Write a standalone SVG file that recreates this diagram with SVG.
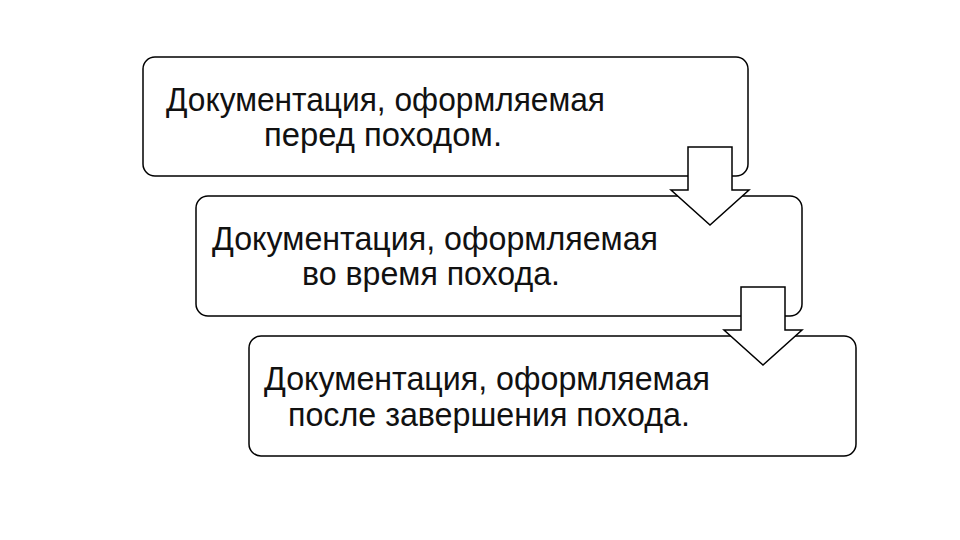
<svg xmlns="http://www.w3.org/2000/svg" width="960" height="540" viewBox="0 0 960 540">
<style>
.box{fill:#fff;stroke:#000;stroke-width:1.5}
.arr{fill:#fff;stroke:#000;stroke-width:1.5;stroke-linejoin:miter}
.t{font-family:"Liberation Sans","Noto Sans",sans-serif;font-size:33px;fill:#111}
</style>
<rect width="960" height="540" fill="#fff"/>
<g id="node1">
<rect class="box" x="143" y="57" width="605" height="119" rx="12"/>
<text class="t" x="166" y="110.5" textLength="439" lengthAdjust="spacingAndGlyphs">Документация, оформляемая</text>
<text class="t" x="264" y="146" textLength="238" lengthAdjust="spacingAndGlyphs">перед походом.</text>
</g>
<g id="node2">
<rect class="box" x="196" y="196" width="606" height="120" rx="12"/>
<text class="t" x="212" y="249.5" textLength="446" lengthAdjust="spacingAndGlyphs">Документация, оформляемая</text>
<text class="t" x="302" y="285" textLength="258" lengthAdjust="spacingAndGlyphs">во время похода.</text>
</g>
<g id="node3">
<rect class="box" x="249" y="336" width="607" height="120" rx="12"/>
<text class="t" x="264" y="390" textLength="446" lengthAdjust="spacingAndGlyphs">Документация, оформляемая</text>
<text class="t" x="288" y="426" textLength="402" lengthAdjust="spacingAndGlyphs">после завершения похода.</text>
</g>
<g id="connectors">
<path class="arr" d="M688,147 H732 V190 H749 L710,225 L671,190 H688 Z"/>
<path class="arr" d="M741,287 H785 V330 H802 L763,365 L724,330 H741 Z"/>
</g>
</svg>
